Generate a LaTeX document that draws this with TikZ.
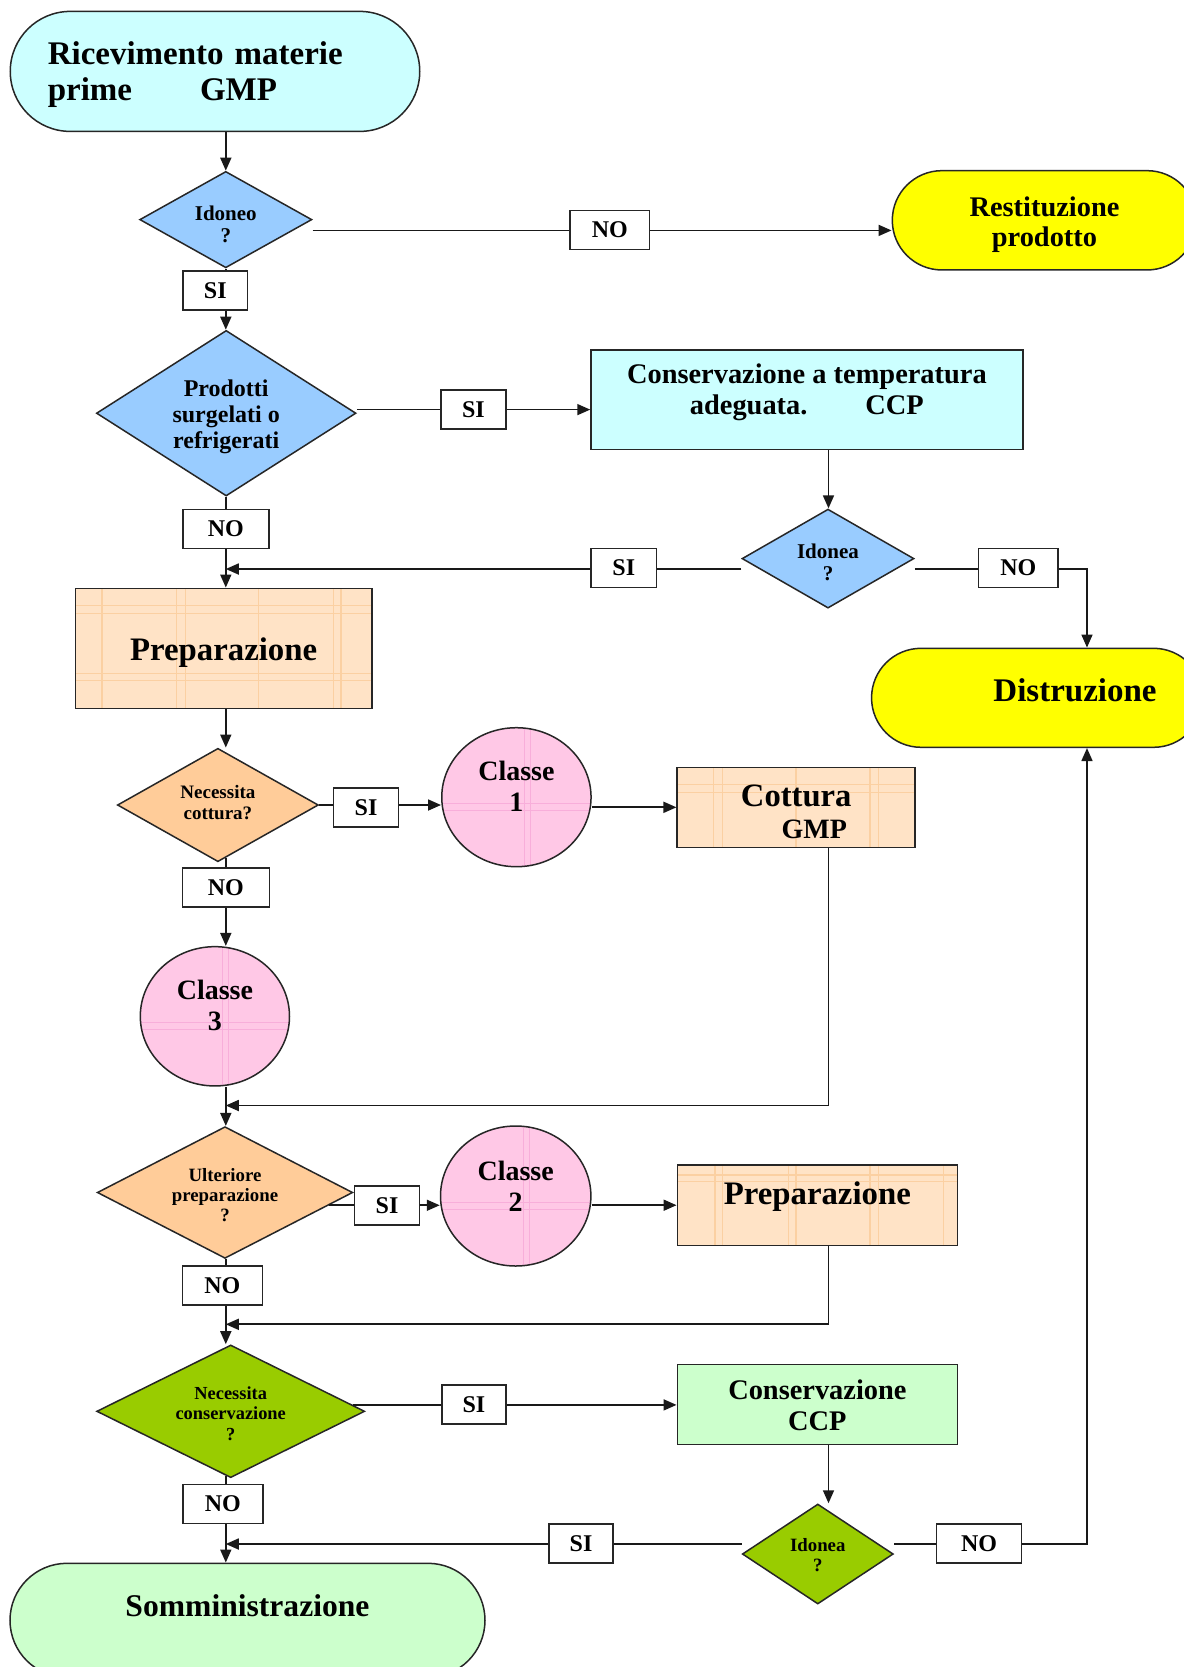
\documentclass[tikz,border=0pt]{standalone}
\usepackage{fontspec}
\setmainfont{Liberation Serif}
\usetikzlibrary{shapes.geometric,arrows.meta,calc}
\definecolor{cyanl}{HTML}{CCFFFF}
\definecolor{bluel}{HTML}{99CCFF}
\definecolor{yel}{HTML}{FFFF00}
\definecolor{peach}{HTML}{FFE3C6}
\definecolor{peachln}{HTML}{FBD0A2}
\definecolor{orng}{HTML}{FFCC99}
\definecolor{pinkl}{HTML}{FFC8E6}
\definecolor{pinkln}{HTML}{F8AEDA}
\definecolor{grn}{HTML}{99CC00}
\definecolor{grnl}{HTML}{CCFFCC}
\newcommand{\myfs}[2]{\fontsize{#1}{#2}\selectfont\bfseries}
\tikzset{
  shp/.style={draw=black!85,line width=0.75pt,inner sep=0pt},
  term/.style={shp,rectangle,rounded corners=#1},
  dia/.style={shp,diamond},
  box/.style={shp,rectangle},
  ell/.style={shp,ellipse},
  lbl/.style={draw=black!85,line width=0.75pt,fill=white,inner sep=0pt,minimum height=19.5pt,font=\myfs{12}{12}},
  conn/.style={line width=0.85pt,draw=black!90},
  arr/.style={conn,-{Triangle[length=6.5pt,width=5.5pt]}},
  lab/.style n args={3}{label={[align=center,inner sep=0pt,font=#1,yshift=#2]center:#3}},
  ptex/.style 2 args={path picture={
    \foreach \q in {#1}{\draw[peachln,line width=0.6pt] ([xshift=\q*0.5pt]path picture bounding box.north west) -- ([xshift=\q*0.5pt]path picture bounding box.south west);}
    \foreach \q in {#2}{\draw[peachln,line width=0.6pt] ([yshift=-\q*0.5pt]path picture bounding box.north west) -- ([yshift=-\q*0.5pt]path picture bounding box.north east);}
  }},
  ctex/.style={path picture={
    \draw[pinkln,line width=0.5pt] ([xshift=4pt]path picture bounding box.north) -- ([xshift=4pt]path picture bounding box.south);
    \draw[pinkln,line width=0.5pt] ([xshift=7pt]path picture bounding box.north) -- ([xshift=7pt]path picture bounding box.south);
    \draw[pinkln,line width=0.5pt] ([yshift=-3pt]path picture bounding box.west) -- ([yshift=-3pt]path picture bounding box.east);
    \draw[pinkln,line width=0.5pt] ([yshift=-6.5pt]path picture bounding box.west) -- ([yshift=-6.5pt]path picture bounding box.east);
  }},
}
\begin{document}
\begin{tikzpicture}[x=0.5pt,y=-0.5pt]
\useasboundingbox (0,0) rectangle (1184,1667);
\fill[white] (0,0) rectangle (1184,1667);
\clip (0,0) rectangle (1184,1667);

% shapes
\node[term=30pt, fill=cyanl, minimum width=204.75pt, minimum height=60pt,
  label={[text width=167.25pt, align=left, inner sep=0pt, font=\myfs{16.5}{18}, yshift=-1.5pt]center:Ricevimento materie\\prime\hspace*{34pt}GMP}] (st) at (215,71.4) {};
\node[dia, fill=bluel, minimum width=86.1pt, minimum height=48.2pt, lab={\myfs{10.5}{10.7}}{-2.35pt}{Idoneo\\?}] (d1) at (225.8,219.6) {};
\node[term=24.8pt, fill=yel, minimum width=152.2pt, minimum height=49.65pt, lab={\myfs{14.2}{15}}{-2.3pt}{Restituzione\\prodotto}] (rest) at (1044.5,220.3) {};
\node[dia, fill=bluel, minimum width=129.8pt, minimum height=82.8pt, lab={\myfs{12}{13}}{-1.8pt}{Prodotti\\surgelati o\\refrigerati}] (d2) at (226.2,413.2) {};
\node[box, fill=cyanl, minimum width=215.9pt, minimum height=49.65pt, lab={\myfs{14.2}{15.5}}{3.5pt}{Conservazione a temperatura\\adeguata.\hspace*{29pt}CCP}] (cons1) at (806.9,399.6) {};
\node[dia, fill=bluel, minimum width=86pt, minimum height=49.5pt, lab={\myfs{10.5}{10.7}}{-1.85pt}{Idonea\\?}] (id1) at (828,558.6) {};
\node[term=24.75pt, fill=yel, minimum width=165.75pt, minimum height=49.5pt, label={[inner sep=0pt,font=\myfs{16.5}{17},xshift=18.85pt,yshift=3.9pt]center:Distruzione}] (dis) at (1037.3,697.8) {};
\node[box, fill=peach, ptex={26.7,101,110,183.3,258.3,265.7}{17,25,85,92}, minimum width=148.35pt, minimum height=60pt, lab={\myfs{16.4}{17}}{-2.35pt}{Preparazione}] (prep1) at (223.6,648.3) {};
\node[dia, fill=orng, minimum width=100.5pt, minimum height=56.7pt, lab={\myfs{9.5}{10.5}}{1.4pt}{Necessita\\cottura?}] (nc) at (217.9,805) {};
\node[ell, fill=pinkl, ctex, minimum width=74.65pt, minimum height=69.5pt, lab={\myfs{14}{15.5}}{5.25pt}{Classe\\1}] (c1) at (516.4,797.2) {};
\node[box, fill=peach, ptex={36,45.3,118.7,192.7,201}{17.5,25}, minimum width=119pt, minimum height=40pt, lab={\myfs{16.3}{16}}{-2.4pt}{Cottura\\\hspace*{18pt}{\myfs{14}{16}GMP}}] (cot) at (796.2,807.3) {};
\node[ell, fill=pinkl, ctex, minimum width=74.6pt, minimum height=69.65pt, lab={\myfs{14}{15.5}}{5.2pt}{Classe\\3}] (c3) at (214.9,1016.3) {};
\node[dia, fill=orng, minimum width=127.75pt, minimum height=65.85pt, lab={\myfs{9.4}{10}}{-1.25pt}{Ulteriore\\preparazione\\?}] (ul) at (225,1192.5) {};
\node[ell, fill=pinkl, ctex, minimum width=75.2pt, minimum height=70pt, lab={\myfs{14}{15.5}}{5pt}{Classe\\2}] (c2) at (515.7,1196) {};
\node[box, fill=peach, ptex={37.7,45.3,111,118.7,192.7,201,266}{10,16.7}, minimum width=140pt, minimum height=40.25pt, lab={\myfs{16.4}{17}}{4.5pt}{Preparazione}] (p2) at (817.3,1205.2) {};
\node[dia, fill=grn, minimum width=134pt, minimum height=66.35pt, lab={\myfs{9.2}{10.25}}{-1.2pt}{Necessita\\conservazione\\?}] (ncs) at (230.7,1411.3) {};
\node[box, fill=grnl, minimum width=140.1pt, minimum height=40pt, lab={\myfs{14.2}{15.3}}{-0.5pt}{Conservazione\\CCP}] (cons2) at (817.4,1404.3) {};
\node[dia, fill=grn, minimum width=75.5pt, minimum height=50pt, lab={\myfs{9.4}{10}}{-0.5pt}{Idonea\\?}] (id2) at (817.8,1554) {};
\node[term=28.5pt, fill=grnl, minimum width=237.5pt, minimum height=57pt, lab={\myfs{15.8}{16}}{7.5pt}{Somministrazione}] (somm) at (247.5,1620.3) {};

% helper coordinates
\coordinate (spx) at (225.8,0);
\coordinate (rx) at (1087,0);
\coordinate (j1) at (828.5,1105.5);
\coordinate (j2) at (828.5,1324.3);

% connectors
\draw[arr] (st.south -| spx) -- (d1.north -| spx);
\draw[arr] ([yshift=-5.4pt]d1.east) -- ([yshift=-5.4pt]d1.east -| rest.west);
\draw[arr] (d1.south -| spx) -- (d2.north -| spx);
\draw[arr] ([yshift=1.8pt]d2.east) -- ([yshift=1.8pt]d2.east -| cons1.west);
\draw[arr] (cons1.south -| j1) -- (id1.north -| j1);
\draw[arr] ([yshift=-5.2pt]id1.west) -- ([yshift=-5.2pt]id1.west -| spx);
\draw[arr] ([yshift=-5.2pt]id1.east) -| (dis.north -| rx);
\draw[arr] (d2.south -| spx) -- (prep1.north -| spx);
\draw[arr] (prep1.south -| spx) -- (nc.north -| spx);
\draw[arr] (nc.east) -- (nc.east -| c1.west);
\draw[arr] (c1.east |- cot.west) -- (cot.west);
\draw[arr] (cot.south -| j1) -- (j1) -- (j1 -| spx);
\draw[arr] ([yshift=2.3pt]nc.south -| spx) -- (c3.north -| spx);
\draw[arr] (c3.south -| spx) -- (ul.north -| spx);
\draw[arr] (ul.-7.6) -- (ul.-7.6 -| c2.west);
\draw[arr] (c2.east |- p2.west) -- (p2.west);
\draw[arr] (p2.south -| j2) -- (j2) -- (j2 -| spx);
\draw[arr] (ul.south -| spx) -- (ncs.north -| spx);
\draw[arr] (ncs.3) -- (ncs.3 -| cons2.west);
\draw[arr] (cons2.south -| j1) -- (id2.north -| j1);
\draw[arr] ([yshift=5pt]id2.west) -- ([yshift=5pt]id2.west -| spx);
\draw[arr] ([yshift=5pt]id2.east) -| (dis.south -| rx);
\draw[arr] ([yshift=1.2pt]ncs.south -| spx) -- (somm.north -| spx);

% label boxes
\node[lbl, minimum width=39.75pt] (no1) at (609.8,230) {NO};
\node[lbl, minimum width=32.35pt] (si1) at (215.3,290.5) {SI};
\node[lbl, minimum width=32.5pt] (si2) at (473.4,409.5) {SI};
\node[lbl, minimum width=43pt] (no2) at (225.8,529) {NO};
\node[lbl, minimum width=32.85pt] (si3) at (623.8,568) {SI};
\node[lbl, minimum width=39.8pt] (no3) at (1018.4,568) {NO};
\node[lbl, minimum width=32.5pt] (si4) at (366,807.7) {SI};
\node[lbl, minimum width=43.5pt] (no4) at (225.8,887.5) {NO};
\node[lbl, minimum width=32.7pt] (si5) at (387,1205.5) {SI};
\node[lbl, minimum width=40pt] (no5) at (222.4,1285.5) {NO};
\node[lbl, minimum width=32.15pt] (si6) at (473.9,1404.7) {SI};
\node[lbl, minimum width=40pt] (no6) at (222.8,1503.8) {NO};
\node[lbl, minimum width=32.1pt] (si7) at (581,1543.7) {SI};
\node[lbl, minimum width=42.7pt] (no7) at (979,1543.7) {NO};
\end{tikzpicture}
\end{document}
